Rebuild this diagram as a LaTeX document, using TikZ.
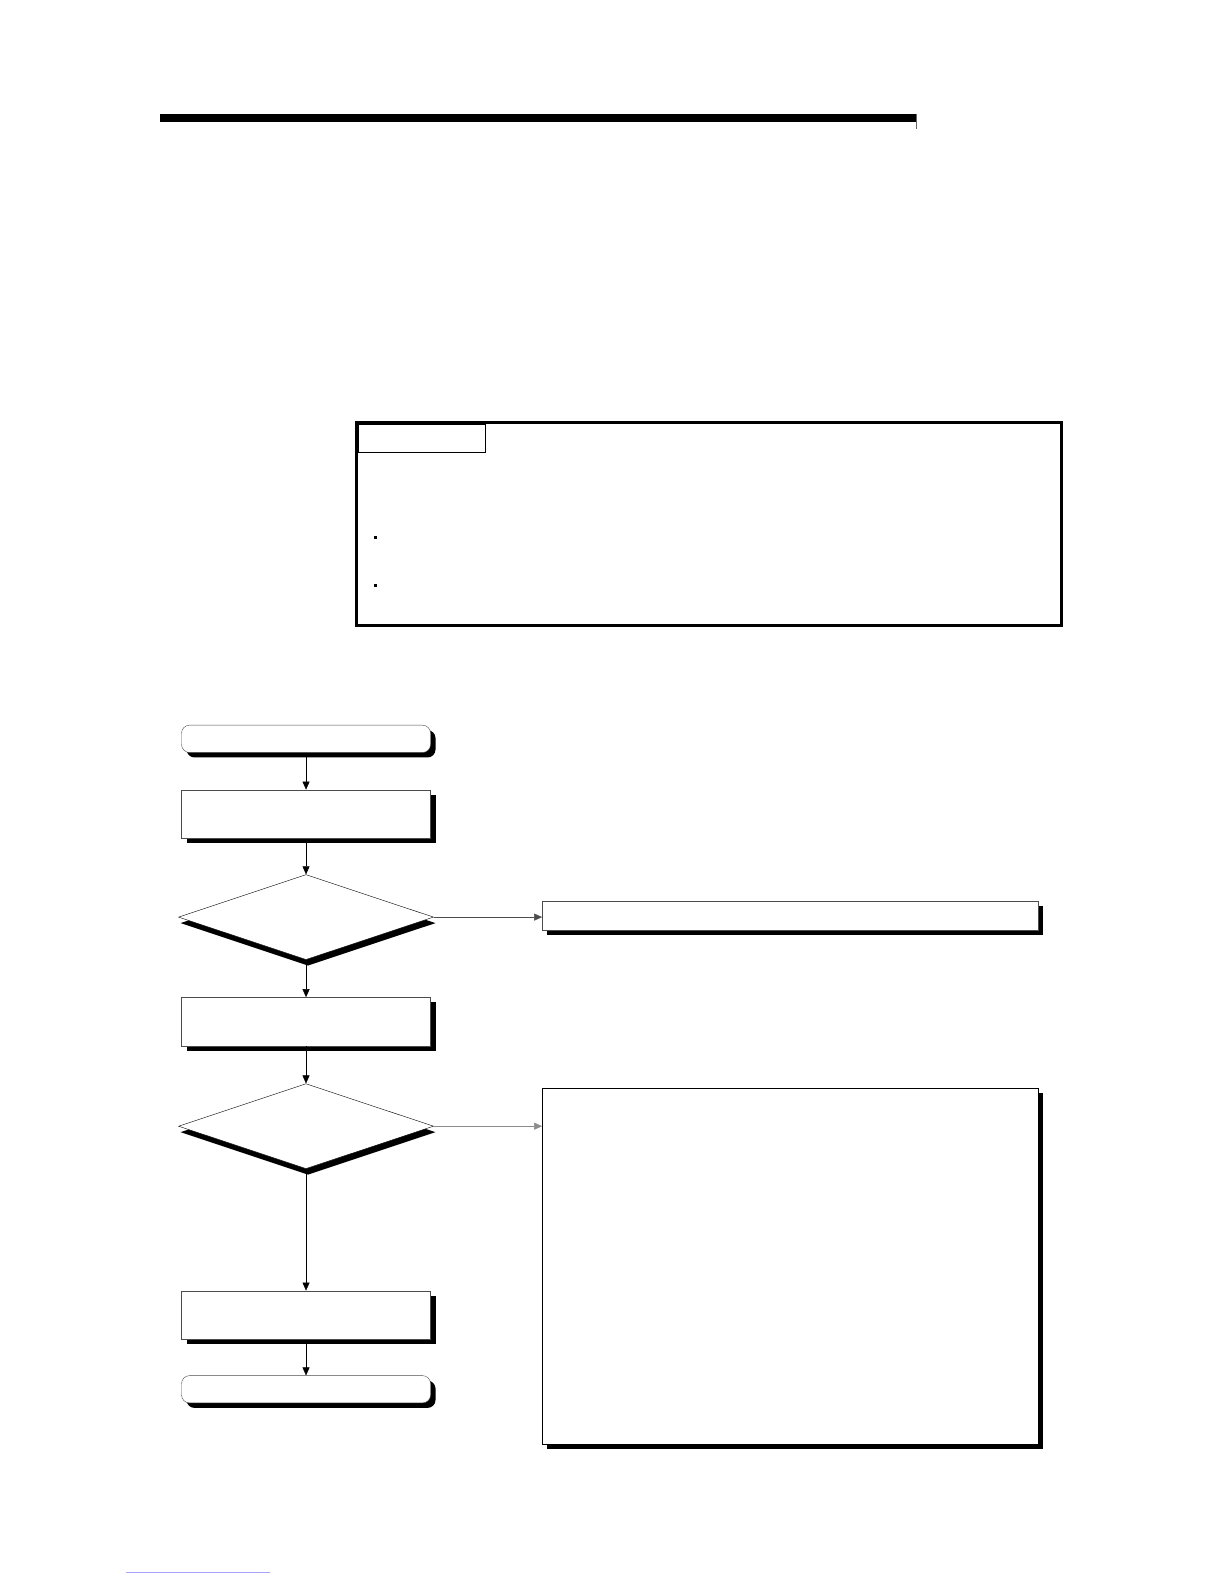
\documentclass[tikz,border=0pt]{standalone}
\usetikzlibrary{arrows.meta,shapes.geometric,shadows}

\begin{document}
\begin{tikzpicture}[x=1.01pt, y=-1.01pt, >={Triangle[length=8pt,width=7pt]},
   proc/.style={rectangle, draw=black!70, fill=white, inner sep=0, minimum width=249pt, minimum height=48.5pt,
      drop shadow={shadow xshift=5pt, shadow yshift=-5pt, fill=black, opacity=1}},
   term/.style={proc, rounded corners=8pt, minimum height=27.3pt},
   test/.style={diamond, draw=black, fill=white, inner sep=0, minimum width=255pt, minimum height=85pt,
      drop shadow={shadow xshift=2pt, shadow yshift=-6pt, fill=black, opacity=1}},
   note/.style={rectangle, draw=black, line width=3pt, inner sep=0},
   bullet/.style={rectangle, fill=black, inner sep=0, minimum size=3pt}]
   \useasboundingbox (0,0) rectangle (1211.9,1568.3);

   % heading rule
   \fill (158,113) rectangle (907,121);
   \draw[line width=0.6pt, black!60] (907,113) -- (907,128);

   % note frame
   \node (box) at (702,518.5) [note, minimum width=705pt, minimum height=203pt] {};
   \node (tab) at (418,434) [rectangle, draw, line width=1.5pt, inner sep=0, minimum width=127pt, minimum height=28pt] {};
   \node (b1) at (372,532) [bullet] {};
   \node (b2) at (372,580) [bullet] {};

   % flow
   \node (start) at (303,731.5) [term] {};
   \node (p1) at (303,806) [proc] {};
   \node (d1) at (303,908) [test] {};
   \node (r1) at (782.5,906.5) [proc, minimum width=496pt, minimum height=29.3pt] {};
   \node (p2) at (303,1011.5) [proc] {};
   \node (d2) at (303,1115) [test] {};
   \node (r2) at (782.5,1253.5) [proc, draw=black, minimum width=496pt, minimum height=356.5pt] {};
   \node (p3) at (303,1302) [proc] {};
   \node (stop) at (303,1375.5) [term] {};

   \draw (start)[->] -- (p1);
   \draw (p1)[->] -- (d1);
   \draw (d1)[->] -- (p2);
   \draw (p2)[->] -- (d2);
   \draw (d2)[->] -- (p3);
   \draw (p3)[->] -- (stop);
   \draw [->, black!70] (d1.east) -- (d1.east -| r1.west);
   \draw [->, black!45] (d2.east) -- (d2.east -| r2.west);

   % footer link
   \draw[blue!35, line width=0.6pt] (125,1557) -- (267,1557);
\end{tikzpicture}
\end{document}
